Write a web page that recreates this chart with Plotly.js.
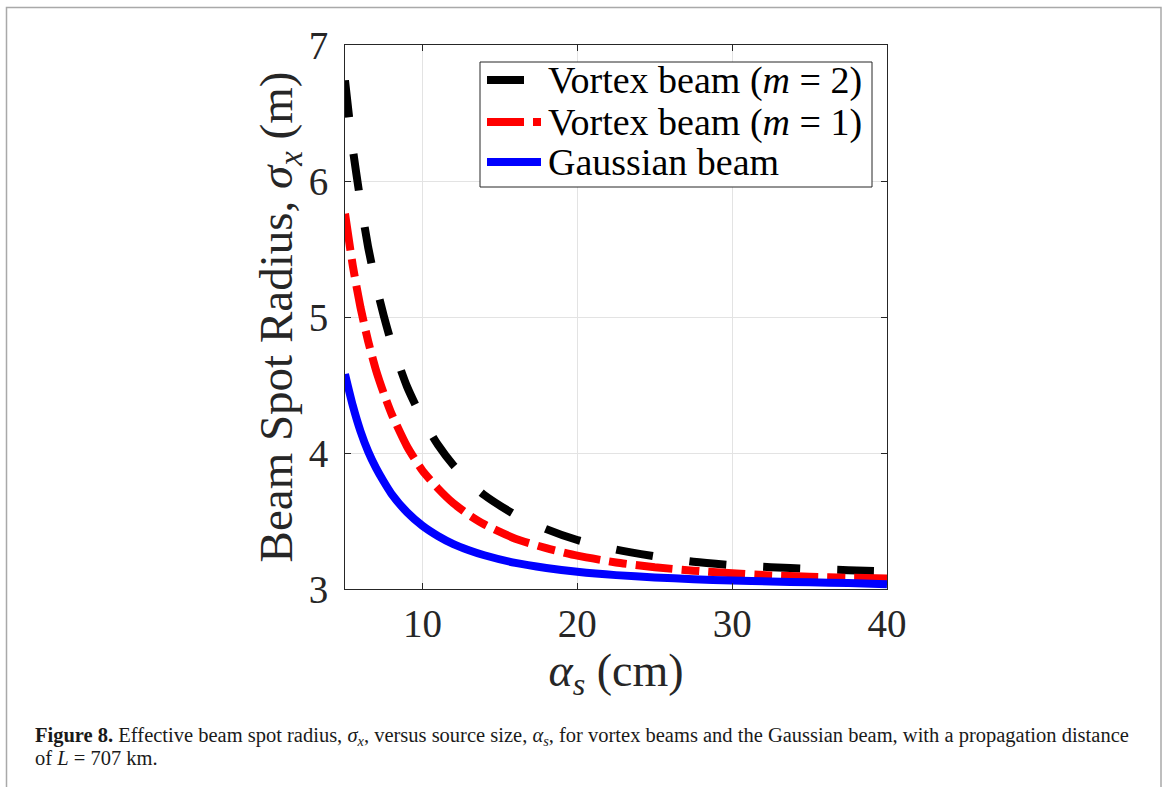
<!DOCTYPE html>
<html>
<head>
<meta charset="utf-8">
<script src="https://cdn.plot.ly/plotly-3.0.1.min.js"></script>
<style>
  html, body { margin: 0; padding: 0; background: #ffffff; }
  #chart { width: 1168px; height: 787px; }
</style>
</head>
<body>
<div id="chart"></div>
<script>
// Source size alpha_s (cm)
const alphaS = [5, 5.5, 6, 6.5, 7, 7.5, 8, 9, 10, 11, 12, 13, 14, 16, 18, 20, 22.5, 25, 27.5, 30, 32.5, 35, 37.5, 40];
// Beam spot radius sigma_x (m)
const vortexM2 = [6.74, 6.24, 5.85, 5.51, 5.24, 5.01, 4.81, 4.49, 4.25, 4.06, 3.91, 3.79, 3.69, 3.545, 3.44, 3.36, 3.29, 3.24, 3.20, 3.175, 3.16, 3.148, 3.138, 3.13];
const vortexM1 = [5.76, 5.38, 5.07, 4.82, 4.61, 4.44, 4.29, 4.05, 3.87, 3.74, 3.63, 3.545, 3.475, 3.37, 3.30, 3.245, 3.195, 3.16, 3.135, 3.115, 3.10, 3.09, 3.083, 3.078];
const gaussian = [4.58, 4.35, 4.16, 4.01, 3.89, 3.79, 3.70, 3.565, 3.465, 3.39, 3.33, 3.285, 3.248, 3.192, 3.155, 3.127, 3.102, 3.085, 3.072, 3.062, 3.055, 3.049, 3.044, 3.035];

const xTicks = [10, 20, 30, 40];
const yTicks = [3, 4, 5, 6, 7];

const seriesNames = ['Vortex beam (<i>m</i> = 2)', 'Vortex beam (<i>m</i> = 1)', 'Gaussian beam'];
const seriesColors = ['#000000', '#ff0000', '#0000ff'];
const seriesDash = ['37px,37px', '37px,9px,18px,9px', 'solid'];
const seriesData = [vortexM2, vortexM1, gaussian];

const SERIF = 'Liberation Serif';
const LW = 8;

const traces = seriesData.map((ys, i) => ({
  x: alphaS,
  y: ys,
  type: 'scatter',
  mode: 'lines',
  name: seriesNames[i],
  line: { color: seriesColors[i], width: LW, dash: seriesDash[i], shape: 'spline', smoothing: 0.6 },
  showlegend: false,
  hoverinfo: 'x+y'
}));

// Plot area in pixels: x 345..887, y 45..589
const L = 345, R = 887, T = 45, B = 589;
const W = 1168, H = 787;
const px = v => (v - L) / (R - L);
const py = v => (B - v) / (B - T);

// Legend box with line samples
const legendRows = [80, 122, 162];
const shapes = [
  { type: 'rect', xref: 'paper', yref: 'paper', x0: px(480), x1: px(872), y0: py(187), y1: py(62),
    line: { color: '#262626', width: 1 }, fillcolor: '#ffffff', layer: 'above' }
];
const annotations = [];
legendRows.forEach((ry, i) => {
  shapes.push({ type: 'line', xref: 'paper', yref: 'paper', x0: px(487), x1: px(541), y0: py(ry), y1: py(ry),
    line: { color: seriesColors[i], width: LW, dash: seriesDash[i] }, layer: 'above' });
  annotations.push({ xref: 'paper', yref: 'paper', x: px(546), y: py(ry), xanchor: 'left', yanchor: 'middle',
    text: seriesNames[i], showarrow: false, font: { family: SERIF, size: 38, color: '#000000' } });
});

// Page frame
shapes.push({ type: 'rect', xref: 'paper', yref: 'paper', x0: px(6.5), x1: px(1161), y0: py(830), y1: py(7.5),
  line: { color: '#a9a9a9', width: 1.5 }, fillcolor: 'rgba(0,0,0,0)', layer: 'below' });

// Figure caption
const capFont = { family: SERIF, size: 20.5, color: '#1a1a1a' };
annotations.push({ xref: 'paper', yref: 'paper', x: px(33), y: py(736), xanchor: 'left', yanchor: 'middle', align: 'left',
  showarrow: false, font: capFont,
  text: '<b>Figure 8.</b> Effective beam spot radius, <i>σ<sub>x</sub></i>, versus source size, <i>α<sub>s</sub></i>, for vortex beams and the Gaussian beam, with a propagation distance' });
annotations.push({ xref: 'paper', yref: 'paper', x: px(33), y: py(758), xanchor: 'left', yanchor: 'middle', align: 'left',
  showarrow: false, font: capFont, text: 'of <i>L</i> = 707 km.' });

const axisCommon = {
  showline: true, linecolor: '#262626', linewidth: 1, mirror: 'ticks',
  ticks: 'inside', ticklen: 6, tickwidth: 1, tickcolor: '#262626',
  showgrid: true, gridcolor: '#e3e3e3', gridwidth: 1, zeroline: false,
  tickfont: { family: SERIF, size: 39, color: '#262626' }
};

const layout = {
  width: W, height: H,
  margin: { l: L, r: W - R, t: T, b: H - B, pad: 0 },
  paper_bgcolor: '#ffffff', plot_bgcolor: '#ffffff',
  font: { family: SERIF },
  showlegend: false,
  xaxis: Object.assign({}, axisCommon, {
    range: [5, 40], tickmode: 'array', tickvals: xTicks, ticktext: xTicks.map(String),
    ticklabelstandoff: 0,
    title: { text: '<i>α<sub>s</sub></i> (cm)', font: { family: SERIF, size: 46, color: '#262626' }, standoff: 4 }
  }),
  yaxis: Object.assign({}, axisCommon, {
    range: [3, 7], tickmode: 'array', tickvals: yTicks, ticktext: yTicks.map(String),
    ticklabelstandoff: 8,
    title: { text: 'Beam Spot Radius, <i>σ<sub>x</sub></i> (m)', font: { family: SERIF, size: 47, color: '#262626' }, standoff: 0 }
  }),
  shapes: shapes,
  annotations: annotations
};

Plotly.newPlot('chart', traces, layout, { displayModeBar: false, staticPlot: true });
</script>
</body>
</html>
